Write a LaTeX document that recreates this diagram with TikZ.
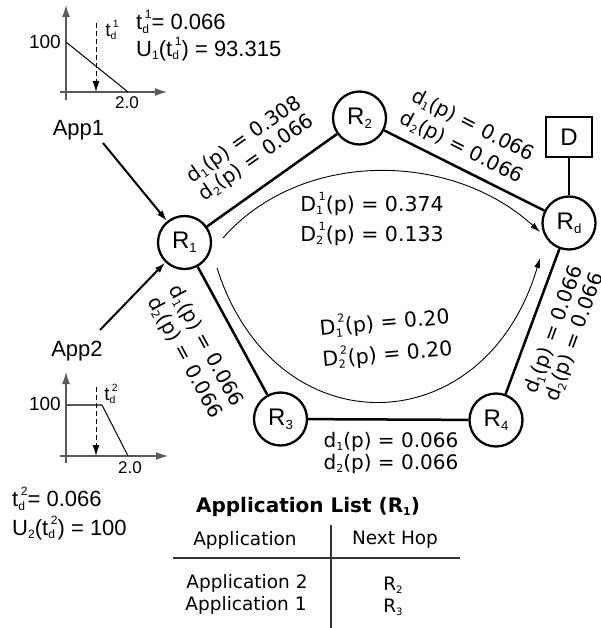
\documentclass[tikz,border=0pt]{standalone}
\usepackage{fontspec}
\setmainfont{Liberation Sans}
\newfontfamily\vfont{DejaVu Sans}
\usetikzlibrary{arrows.meta}
\newcommand\lsub[1]{\raisebox{-0.3ex}{\scalebox{0.55}{#1}}}
\newcommand\lsup[1]{\raisebox{0.95ex}{\scalebox{0.55}{#1}}}
\newcommand\lsubsup[2]{\rlap{\lsub{#1}}\hspace{0.12em}\lsup{#2}}
\newcommand\fs[2]{\fontsize{#1}{#2}\selectfont}
\begin{document}
\begin{tikzpicture}[x=1pt,y=-1pt,
  router/.style={circle,draw,line width=2.3pt,minimum size=53pt,inner sep=0pt,font=\fs{24}{28}},
  edge/.style={line width=2.5pt},
  inarrow/.style={line width=2pt,-{Latex[length=11pt,width=7pt]}},
  arc/.style={line width=0.9pt,-{Latex[length=10pt,width=6pt]}},
  elabel/.style={font=\vfont\fs{20}{22},align=center,inner sep=0pt},
  dlabel/.style={font=\vfont\fs{20.5}{30},align=center,inner sep=0pt},
  txt/.style={font=\fs{22}{26},inner sep=0pt},
  plottxt/.style={font=\fs{19}{22},inner sep=0pt},
  axisline/.style={line width=1.3pt,black!65},
  axisarrow/.style={axisline,-{Latex[length=12pt,width=8pt]}},
  dasharrow/.style={line width=1pt,dash pattern=on 5pt off 3pt,-{Latex[length=11pt,width=7pt]}},
  tbl/.style={font=\vfont\fs{18.5}{22},inner sep=0pt},
  tblline/.style={line width=1.3pt,black!80}
]
\path[use as bounding box] (0,0) rectangle (600,628);

% routers
\node[router] (R1) at (184.5,242.5) {R\lsub{1}};
\node[router] (R2) at (359.5,118) {R\lsub{2}};
\node[router] (Rd) at (569,223) {R\lsub{d}};
\node[router] (R4) at (496,420) {R\lsub{4}};
\node[router] (R3) at (280.5,419) {R\lsub{3}};
\node[draw,line width=2pt,minimum width=46pt,minimum height=40pt,inner sep=0pt,font=\fs{24}{28}] (D) at (569,137) {D};

% edges
\draw[edge] (R1) -- (R2);
\draw[edge] (R2) -- (Rd);
\draw[edge] (R1) -- (R3);
\draw[edge] (R3) -- (R4);
\draw[edge] (R4) -- (Rd);
\draw[edge] (D) -- (Rd);

% edge labels
\node[elabel,rotate=35] (L12) at (250.5,149) {d\lsub{1}(p) = 0.308\\d\lsub{2}(p) = 0.066};
\node[elabel,rotate=-27,font=\vfont\fs{20}{25}] (L2d) at (467,137) {d\lsub{1}(p) = 0.066\\d\lsub{2}(p) = 0.066};
\node[elabel,rotate=-61.5,font=\vfont\fs{20}{24}] (L13) at (195,352) {d\lsub{1}(p) = 0.066\\d\lsub{2}(p) = 0.066};
\node[elabel,rotate=70] (Ld4) at (565,333.5) {d\lsub{1}(p) = 0.066\\d\lsub{2}(p) = 0.066};
\node[elabel] (L34) at (391,453) {d\lsub{1}(p) = 0.066\\d\lsub{2}(p) = 0.066};

% path delay arcs
\coordinate (u0) at (223,238);
\coordinate (u1) at (540,232);
\draw[arc] (u0) .. controls (300,150) and (450,150) .. (u1);
\coordinate (l0) at (217,268);
\coordinate (l1) at (540,258);
\draw[arc] (l0) .. controls (275,450) and (485,445) .. (l1);
\node[dlabel] (DA) at (372,219) {D\lsubsup{1}{1}(p) = 0.374\\D\lsubsup{2}{1}(p) = 0.133};
\node[dlabel,rotate=5,font=\vfont\fs{20.5}{32}] (DB) at (386,338) {D\lsubsup{1}{2}(p) = 0.20\\D\lsubsup{2}{2}(p) = 0.20};

% applications
\node[txt] (App1) at (78.5,130) {App1};
\node[txt] (App2) at (77,351) {App2};
\coordinate (a1) at (103,143);
\coordinate (a2) at (100,330);
\draw[inarrow] (a1) -- (R1);
\draw[inarrow] (a2) -- (R1);

% top utility plot
\draw[axisarrow] (66,100) -- (66,5);
\draw[axisarrow] (60,92) -- (167,92);
\draw[line width=1pt] (66,42) -- (128,92);
\draw[dasharrow] (96,23) -- (96,92);
\node[plottxt,anchor=east] at (61,42) {100};
\node[plottxt] at (112,30) {t\lsubsup{d}{1}};
\node[plottxt,font=\fs{17}{20}] at (127,103) {2.0};
\node[txt,anchor=west] at (136,22) {t\lsubsup{d}{1}= 0.066};
\node[txt,anchor=west] at (136,49) {U\lsub{1}(t\lsubsup{d}{1}) = 93.315};

% bottom utility plot
\draw[axisarrow] (66,463) -- (66,372);
\draw[axisarrow] (60,456) -- (168,456);
\draw[axisline] (66,405) -- (102,405);
\draw[line width=1pt] (102,405) -- (128,456);
\draw[dasharrow] (96,387) -- (96,456);
\node[plottxt,anchor=east] at (61,404) {100};
\node[plottxt] at (111,394) {t\lsubsup{d}{2}};
\node[plottxt,font=\fs{17}{20}] at (130,468) {2.0};
\node[txt,anchor=west] at (12,499) {t\lsubsup{d}{2}= 0.066};
\node[txt,anchor=west] at (12,528) {U\lsub{2}(t\lsubsup{d}{2}) = 100};

% application list table
\node[tbl,font=\vfont\bfseries\fs{20}{22}] (T) at (308,507) {Application List (R\lsub{1})};
\node[tbl] (H1) at (245,540) {Application};
\node[tbl] (H2) at (395,540) {Next Hop};
\node[tbl] (A2) at (247,583) {Application 2};
\node[tbl] (A1) at (246,605) {Application 1};
\node[tbl] (N2) at (393,585) {R\lsub{2}};
\node[tbl] (N3) at (393,607) {R\lsub{3}};
\draw[tblline] (331,525) -- (331,628);
\draw[tblline] (173,558) -- (460,558);
\end{tikzpicture}
\end{document}
